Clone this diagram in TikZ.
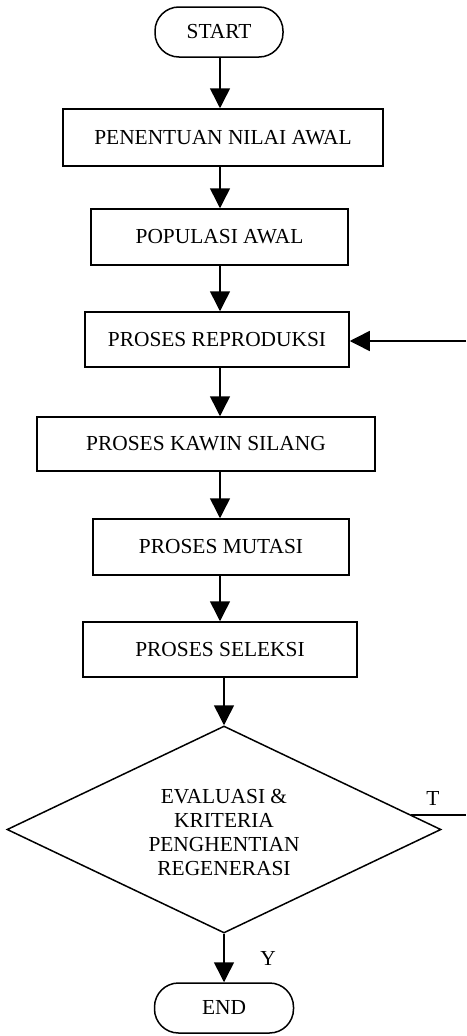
\documentclass[tikz,border=0pt]{standalone}
\usepackage{fontspec}
\setmainfont{Liberation Serif}
\usetikzlibrary{arrows.meta,shapes.geometric,calc}
\begin{document}
\begin{tikzpicture}[x=1pt,y=1pt,
  every node/.style={font=\fontsize{21.4}{24}\selectfont},
  procbox/.style={draw, line width=1.5pt, inner sep=0pt, rectangle},
  termbox/.style={draw, line width=1.5pt, inner sep=0pt, rectangle, rounded corners=24pt},
  decbox/.style={draw, line width=1.5pt, inner sep=0pt, diamond},
  arr/.style={line width=1.5pt, -{Triangle[width=20pt,length=20pt]}},
  plain/.style={line width=1.5pt}
]
\useasboundingbox (0,0) rectangle (466,-1036);
\coordinate (axis) at (220,0);
\node[termbox, minimum width=128pt, minimum height=50pt] (start) at (219,-32) {START};
\node[procbox, minimum width=320pt, minimum height=57pt] (pen) at (223,-137.5) {PENENTUAN NILAI AWAL};
\node[procbox, minimum width=257pt, minimum height=56pt] (pop) at (219.5,-237) {POPULASI AWAL};
\node[procbox, minimum width=264pt, minimum height=55pt] (rep) at (217,-339.5) {PROSES REPRODUKSI};
\node[procbox, minimum width=338pt, minimum height=54pt] (kaw) at (206,-444) {PROSES KAWIN SILANG};
\node[procbox, minimum width=256pt, minimum height=56pt] (mut) at (221,-547) {PROSES MUTASI};
\node[procbox, minimum width=274pt, minimum height=55pt] (sel) at (220,-649.5) {PROSES SELEKSI};
\node[decbox, minimum width=434pt, minimum height=207pt] (dia) at (224,-829.5) {};
\node[align=center, inner sep=0pt] (diatext) at (224,-832) {EVALUASI \&\\KRITERIA\\PENGHENTIAN\\REGENERASI};
\node[termbox, minimum width=139pt, minimum height=50pt] (end) at (224,-1008) {END};
\coordinate (tstart) at ($(dia.north)!0.86!(dia.east)$);
\coordinate (rightedge) at (466,0);
\coordinate (loopin) at (466,-341);
\node (tlabel) at (433,-798) {T};
\node (ylabel) at (268,-958) {Y};

\draw[arr] (start.south -| axis) -- (pen.north -| axis);
\draw[arr] (pen.south -| axis) -- (pop.north -| axis);
\draw[arr] (pop.south -| axis) -- (rep.north -| axis);
\draw[arr] (rep.south -| axis) -- (kaw.north -| axis);
\draw[arr] (kaw.south -| axis) -- (mut.north -| axis);
\draw[arr] (mut.south -| axis) -- (sel.north -| axis);
\draw[arr] (sel.south -| dia.north) -- (dia.north);
\draw[arr] (dia.south) -- (end.north);
\draw[plain] (tstart) -- (tstart -| rightedge);
\draw[arr] (loopin) -- (loopin -| rep.east);
\end{tikzpicture}
\end{document}
